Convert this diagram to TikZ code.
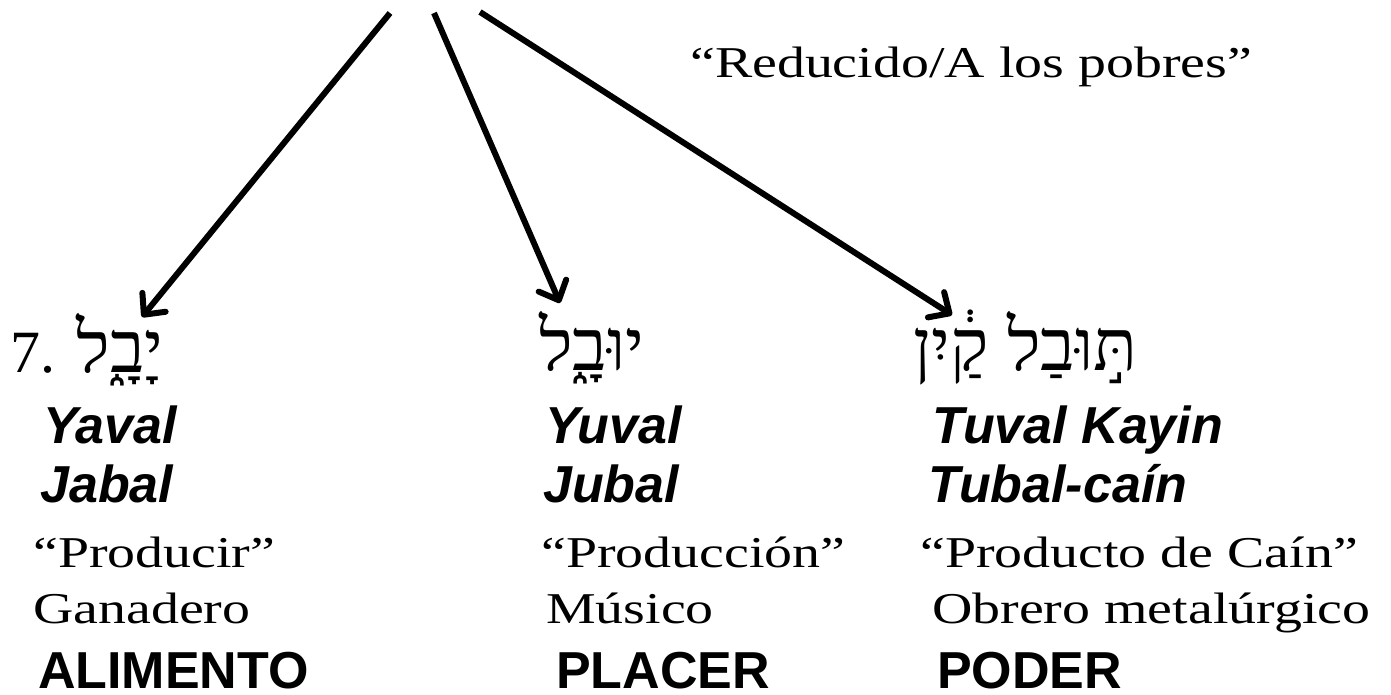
\documentclass[tikz,border=0pt]{standalone}
\usepackage{fontspec}
\usetikzlibrary{arrows.meta}
\setmainfont{Liberation Serif}
\setsansfont{Liberation Sans}
\newfontfamily\camb{Liberation Serif}[FakeStretch=1.27]
\newfontfamily\hebfont[Script=Hebrew]{Liberation Serif}
\TeXXeTstate=1
\tikzset{
  ser/.style={anchor=base west, inner sep=0pt, font=\camb\fontsize{44}{44}\selectfont},
  nm/.style={anchor=base west, inner sep=0pt, font=\sffamily\bfseries\itshape\fontsize{52}{52}\selectfont},
  bigcaps/.style={anchor=base west, inner sep=0pt, font=\sffamily\bfseries\fontsize{52}{52}\selectfont},
  heb/.style={anchor=base east, inner sep=0pt, font=\hebfont\fontsize{72}{72}\selectfont},
  arr/.style={line width=6pt, -{Straight Barb[length=16pt,width=30pt,round]}},
}
\begin{document}
\begin{tikzpicture}[x=1pt,y=-1pt]
\useasboundingbox (0,0) rectangle (1391,694);
% top label
\node[ser] (top) at (690,77) {“Reducido/A los pobres”};
% column 1
\node[anchor=base west, inner sep=0pt, font=\fontsize{60}{60}\selectfont] (num) at (10,372) {7.};
\node[heb] (h1) at (164,372) {\beginR יָבָ֑ל\endR};
\node[nm] (n1a) at (43,443) {Yaval};
\node[nm] (n1b) at (40,502) {Jabal};
\node[ser] (m1) at (33,567) {“Producir”};
\node[ser] (o1) at (33,623) {Ganadero};
\node[bigcaps] (c1) at (38,688) {ALIMENTO};
% column 2
\node[heb] (h2) at (645,370) {\beginR יוּבָ֑ל\endR};
\node[nm] (n2a) at (545,443) {Yuval};
\node[nm] (n2b) at (543,502) {Jubal};
\node[ser] (m2) at (541,567) {“Producción”};
\node[ser] (o2) at (546,623) {Músico};
\node[bigcaps] (c2) at (556,688) {PLACER};
% column 3
\node[heb] (h3) at (1138,370) {\beginR תּ֣וּבַל קַ֔יִן\endR};
\node[nm] (n3a) at (932,443) {Tuval Kayin};
\node[nm] (n3b) at (928,502) {Tubal-caín};
\node[ser] (m3) at (920,567) {“Producto de Caín”};
\node[ser] (o3) at (932,623) {Obrero metalúrgico};
\node[bigcaps] (c3) at (937,688) {PODER};
% arrows
\coordinate (s1) at (390,13);
\coordinate (s2) at (434,13);
\coordinate (s3) at (480,12);
\coordinate (t1) at (142,317);
\coordinate (t2) at (560,303);
\coordinate (t3) at (952,315);
\draw[arr] (s1) -- (t1);
\draw[arr] (s2) -- (t2);
\draw[arr] (s3) -- (t3);
\end{tikzpicture}
\end{document}
